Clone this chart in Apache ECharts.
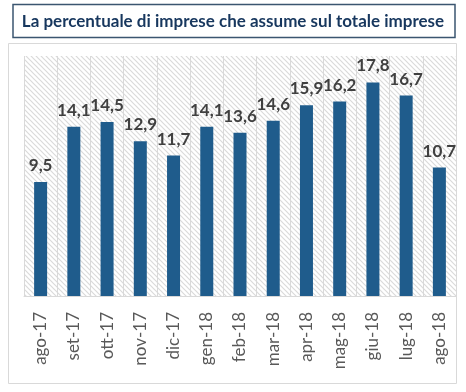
<!DOCTYPE html>
<html><head><meta charset="utf-8">
<script src="https://cdn.jsdelivr.net/npm/echarts@6/dist/echarts.min.js"></script>
<style>html,body{margin:0;padding:0;background:#fff}#c{width:466px;height:392px}</style>
</head><body><div id="c"></div>
<script>
var categories = ['ago-17','set-17','ott-17','nov-17','dic-17','gen-18','feb-18','mar-18','apr-18','mag-18','giu-18','lug-18','ago-18'];
var values = [9.5,14.1,14.5,12.9,11.7,14.1,13.6,14.6,15.9,16.2,17.8,16.7,10.7];
var titleText = 'La percentuale di imprese che assume sul totale imprese';

var pc = document.createElement('canvas');
pc.width = 5; pc.height = 5;
var px = pc.getContext('2d');
px.fillStyle = '#ffffff'; px.fillRect(0,0,5,5);
px.strokeStyle = '#dadada'; px.lineWidth = 1.2;
px.beginPath();
px.moveTo(-1,-1); px.lineTo(6,6);
px.moveTo(-1,4); px.lineTo(1,6);
px.moveTo(4,-1); px.lineTo(6,1);
px.stroke();

var chart = echarts.init(document.getElementById('c'), null, {renderer:'canvas'});
chart.setOption({
  animation:false,
  backgroundColor:'#fff',
  title:{text:titleText,left:'center',top:8,textStyle:{fontFamily:'Lato',fontWeight:'bold',fontSize:17,color:'#17375E'}},
  graphic:[
    {type:'rect',shape:{x:13,y:4.5,width:442,height:33},style:{fill:'none',stroke:'#3B5670',lineWidth:1.5},z:-1},
    {type:'rect',shape:{x:8.5,y:43.5,width:448,height:340},style:{fill:'none',stroke:'#D9D9D9',lineWidth:1},z:-1}
  ],
  grid:{left:24,right:10,top:56,bottom:96,show:true,borderWidth:0,backgroundColor:{image:pc,repeat:'repeat'}},
  xAxis:{type:'category',data:categories,
    axisLine:{show:true,lineStyle:{color:'#D9D9D9'}},axisTick:{show:false},
    splitLine:{show:true,lineStyle:{color:'#D9D9D9',width:1}},
    axisLabel:{rotate:90,margin:16,fontFamily:'Lato',fontSize:17,color:'#595959',interval:0}},
  yAxis:{type:'value',min:0,max:20,show:false,splitLine:{show:false}},
  series:[{type:'bar',data:values,barWidth:13,itemStyle:{color:'#1F5C8C'},
    label:{show:true,position:'top',distance:8,fontFamily:'Lato',fontWeight:'bold',fontSize:17,color:'#404040',
      formatter:function(p){return String(p.value).replace('.',',');}}}]
});
</script></body></html>
